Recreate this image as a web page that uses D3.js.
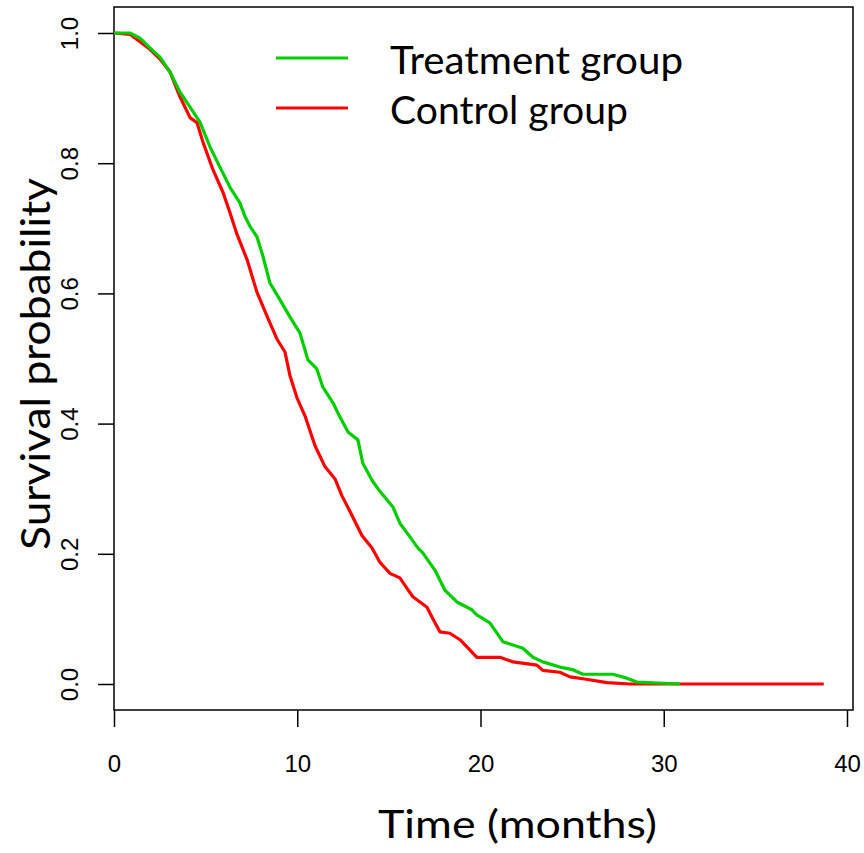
<!DOCTYPE html>
<html>
<head>
<meta charset="utf-8">
<script src="https://cdn.jsdelivr.net/npm/d3@7"></script>
<style>
  body { margin: 0; background: #fff; }
  .tick text { font-family: "Liberation Sans", Arial, sans-serif; font-size: 24px; fill: #000; }
</style>
</head>
<body>
<div class="container"></div>
<script>
// survival curves (months, probability)
var treatTime = [0, 0.87, 1.42, 1.96, 2.51, 3.06, 3.60, 4.15, 4.69, 5.24, 5.78, 6.33, 6.87, 7.15, 7.42, 7.80, 8.13, 8.51, 9.06, 9.60, 10.15, 10.58, 11.07, 11.40, 11.95, 12.33, 12.77, 13.31, 13.58, 14.08, 14.51, 15.22, 15.60, 16.15, 16.58, 16.86, 17.51, 18.06, 18.71, 19.53, 19.80, 20.51, 21.22, 22.31, 22.86, 23.40, 24.33, 25.04, 25.59, 27.22, 27.99, 28.53, 30.9];
var treatSurv = [1.0, 1.0, 0.992, 0.977, 0.963, 0.940, 0.909, 0.886, 0.863, 0.825, 0.794, 0.763, 0.739, 0.718, 0.703, 0.687, 0.657, 0.616, 0.590, 0.564, 0.539, 0.498, 0.484, 0.456, 0.432, 0.410, 0.387, 0.375, 0.339, 0.313, 0.296, 0.272, 0.247, 0.226, 0.209, 0.201, 0.175, 0.144, 0.126, 0.114, 0.106, 0.094, 0.065, 0.055, 0.041, 0.034, 0.026, 0.022, 0.015, 0.015, 0.009, 0.003, 0];

var ctrlTime = [0, 0.87, 1.96, 2.51, 3.06, 3.60, 4.15, 4.53, 4.86, 5.40, 5.95, 6.33, 6.71, 7.26, 7.80, 8.35, 8.89, 9.33, 9.60, 9.98, 10.42, 10.97, 11.51, 12.06, 12.44, 12.88, 13.53, 14.08, 14.51, 15.06, 15.60, 15.99, 16.31, 17.08, 17.35, 17.79, 18.33, 18.88, 19.26, 19.80, 21.06, 21.77, 23.08, 23.40, 24.33, 24.88, 25.59, 26.90, 28.15, 38.73];
var ctrlSurv = [1.0, 0.998, 0.975, 0.960, 0.940, 0.902, 0.870, 0.862, 0.832, 0.790, 0.755, 0.724, 0.691, 0.652, 0.602, 0.565, 0.530, 0.510, 0.474, 0.440, 0.412, 0.366, 0.334, 0.315, 0.289, 0.265, 0.228, 0.209, 0.187, 0.170, 0.163, 0.147, 0.134, 0.118, 0.103, 0.080, 0.078, 0.068, 0.057, 0.041, 0.041, 0.034, 0.029, 0.021, 0.018, 0.011, 0.008, 0.002, 0, 0];

var groupNames = ["Treatment group", "Control group"];
var groupColors = ["#00cd00", "#ff0000"];
var xTicks = [0, 10, 20, 30, 40];
var yTicks = [0, 0.2, 0.4, 0.6, 0.8, 1.0];

//Makes the stage
function makeStage(w, h) {
    var stage = d3.select(".container")
      .append("svg")
      .attr("width", w)
      .attr("height", h)
    return stage;
}

var svg = makeStage(864, 853);

var x = d3.scaleLinear().domain([0, 40]).range([114, 847]);
var y = d3.scaleLinear().domain([0, 1]).range([684, 33]);

//box round the plot
svg.append("rect")
  .attr("x", 114).attr("y", 7)
  .attr("width", 739).attr("height", 703)
  .attr("fill", "none")
  .attr("stroke", "#000")
  .attr("stroke-width", 1.5);

//x axis
var gx = svg.append("g")
  .attr("transform", "translate(0,710)")
  .call(d3.axisBottom(x).tickValues(xTicks).tickSize(17).tickSizeOuter(0));
gx.select(".domain").remove();
gx.selectAll("line").attr("stroke-width", 1.5);
gx.selectAll("text").attr("y", 62).attr("dy", 0);

//y axis
var gy = svg.append("g")
  .attr("transform", "translate(114,0)")
  .call(d3.axisLeft(y).tickValues(yTicks).tickSize(16).tickSizeOuter(0).tickFormat(d3.format(".1f")));
gy.select(".domain").remove();
gy.selectAll("line").attr("stroke-width", 1.5);
gy.selectAll("text")
  .attr("transform", "rotate(-90)")
  .attr("x", 0).attr("y", -36).attr("dy", 0)
  .attr("text-anchor", "middle");

//curves
var line = d3.line()
  .x(function(d) { return x(d[0]); })
  .y(function(d) { return y(d[1]); });

var series = [d3.zip(treatTime, treatSurv), d3.zip(ctrlTime, ctrlSurv)];

// control drawn first so treatment sits on top where they overlap
[1, 0].forEach(function(i) {
  svg.append("path")
    .datum(series[i])
    .attr("d", line)
    .attr("fill", "none")
    .attr("stroke", groupColors[i])
    .attr("stroke-width", 3.2)
    .attr("stroke-linejoin", "round");
});

//legend
var legendY = [58, 108];
groupNames.forEach(function(name, i) {
  svg.append("line")
    .attr("x1", 276).attr("x2", 348)
    .attr("y1", legendY[i]).attr("y2", legendY[i])
    .attr("stroke", groupColors[i])
    .attr("stroke-width", 3.2);
  svg.append("text")
    .attr("x", 390).attr("y", legendY[i] + 16)
    .attr("font-family", "Lato, 'Open Sans', sans-serif")
    .attr("font-size", 38)
    .attr("textLength", i == 0 ? 293 : 238)
    .attr("lengthAdjust", "spacingAndGlyphs")
    .text(name);
});

//axis titles
svg.append("text")
  .attr("x", 378).attr("y", 838)
  .attr("font-family", "Lato, 'Open Sans', sans-serif")
  .attr("font-size", 38)
  .attr("textLength", 279)
  .attr("lengthAdjust", "spacingAndGlyphs")
  .text("Time (months)");

svg.append("text")
  .attr("transform", "translate(50,550) rotate(-90)")
  .attr("font-family", "Lato, 'Open Sans', sans-serif")
  .attr("font-size", 40)
  .attr("textLength", 372)
  .attr("lengthAdjust", "spacingAndGlyphs")
  .text("Survival probability");
</script>
</body>
</html>
